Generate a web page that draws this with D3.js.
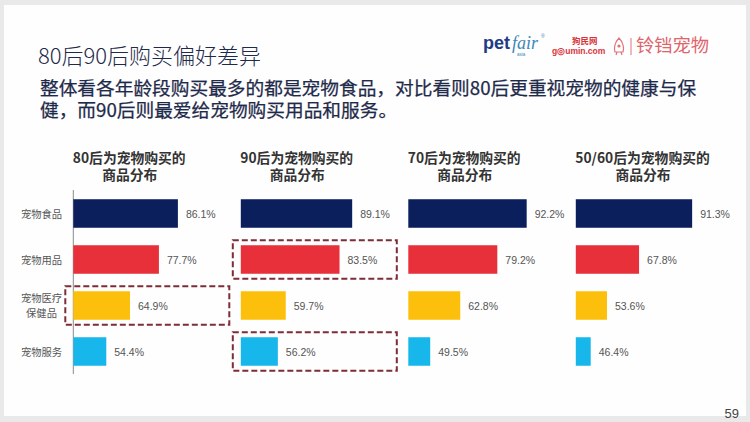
<!DOCTYPE html>
<html>
<head>
<meta charset="utf-8">
<script src="https://cdn.jsdelivr.net/npm/d3@7"></script>
<style>
  html, body { margin: 0; padding: 0; background: #fff; }
  svg { display: block; }
  text { font-family: "Noto Sans CJK SC", "Noto Sans", sans-serif; }
</style>
</head>
<body>
<svg id="chart" width="750" height="422"></svg>
<script>
// ---------------- data ----------------
const titleText = "80后90后购买偏好差异";
const subtitleLines = [
  "整体看各年龄段购买最多的都是宠物食品，对比看则80后更重视宠物的健康与保",
  "健，而90后则最爱给宠物购买用品和服务。"
];
const groups = ["80后", "90后", "70后", "50/60后"];
const headerSuffix = "为宠物购买的";
const headerLine2 = "商品分布";
const categories = ["宠物食品", "宠物用品", "宠物医疗\n保健品", "宠物服务"];
const values80 = [86.1, 77.7, 64.9, 54.4];
const values90 = [89.1, 83.5, 59.7, 56.2];
const values70 = [92.2, 79.2, 62.8, 49.5];
const values5060 = [91.3, 67.8, 53.6, 46.4];
const seriesValues = [values80, values90, values70, values5060];
const highlights = [
  { group: "80后", category: "宠物医疗\n保健品" },
  { group: "90后", category: "宠物用品" },
  { group: "90后", category: "宠物服务" }
];
const pageNumber = "59";

// ---------------- styles ----------------
const barColors = ["#0b1f5c", "#e7303a", "#fcc00c", "#17b7ec"];
const textDark = "#1e2a4a";
const labelGrey = "#555555";

const svg = d3.select("#chart");

// page frame
svg.append("rect").attr("width", 750).attr("height", 422).attr("fill", "#e9e9e9");
svg.append("rect").attr("x", 4).attr("y", 5).attr("width", 742).attr("height", 411).attr("fill", "#fefefe");

// title and subtitle
svg.append("text").attr("x", 38).attr("y", 64)
  .attr("font-size", 22).attr("font-weight", 300).attr("fill", textDark)
  .text(titleText);
const sub = svg.append("text")
  .attr("font-size", 18.7).attr("font-weight", 400).attr("fill", textDark)
  .attr("stroke", textDark).attr("stroke-width", 0.25);
sub.selectAll("tspan").data(subtitleLines).join("tspan")
  .attr("x", 40).attr("y", (d, i) => 95 + i * 22)
  .text(d => d);

// logos (as text)
const logo = svg.append("g");
logo.append("text").attr("x", 483).attr("y", 49)
  .style("font-family", "'Liberation Sans', Arial, sans-serif")
  .attr("font-size", 18).attr("font-weight", 700).attr("fill", "#1d3c86").text("pet");
logo.append("text").attr("x", 512).attr("y", 49)
  .style("font-family", "'Liberation Serif', serif").attr("font-style", "italic")
  .attr("font-size", 18).attr("fill", "#3f86b8").text("fair");
logo.append("text").attr("x", 541).attr("y", 38)
  .style("font-family", "'Liberation Sans', Arial, sans-serif")
  .attr("font-size", 5).attr("fill", "#3f86b8").text("®");
logo.append("text").attr("x", 517).attr("y", 56)
  .style("font-family", "'Liberation Sans', Arial, sans-serif")
  .attr("font-size", 4.5).attr("fill", "#3f86b8").text("asia");
logo.append("text").attr("x", 572).attr("y", 44)
  .attr("font-size", 8.5).attr("font-weight", 700).attr("fill", "#d8343c").text("狗民网");
logo.append("text").attr("x", 552).attr("y", 53.5)
  .style("font-family", "'Liberation Sans', Arial, sans-serif")
  .attr("font-size", 8.5).attr("font-weight", 700).attr("fill", "#d8343c").text("g◎umin.com");
logo.append("path")
  .attr("d", "M619,38 C614,43 614,49 615,52 L623,52 C624,49 624,43 619,38 Z M617,52 L616,55 M621,52 L622,55")
  .attr("fill", "none").attr("stroke", "#e0727a").attr("stroke-width", 1.2);
logo.append("circle").attr("cx", 619).attr("cy", 46).attr("r", 1.6).attr("fill", "#e0727a");
logo.append("line").attr("x1", 631).attr("x2", 631).attr("y1", 38).attr("y2", 55)
  .attr("stroke", "#e0727a").attr("stroke-width", 1);
logo.append("text").attr("x", 636).attr("y", 52)
  .attr("font-size", 18.3).attr("fill", "#e0646c").text("铃铛宠物");

// ---------------- scales ----------------
const panelX = d3.scalePoint().domain(groups).range([73.3, 575.8]);
const x = d3.scaleLinear().domain([39.8, 100]).range([0, 136]);
const y = d3.scaleBand().domain(categories).range([190.5, 374.5])
  .paddingInner(0.38).paddingOuter(0.19);

// axis line on first panel (category axis)
const yAxis = d3.axisLeft(y).tickSize(0).tickFormat("");
const axisG = svg.append("g").attr("transform", `translate(${panelX(groups[0])},0)`).call(yAxis);
axisG.select(".domain").attr("stroke", "#8a8a8a").attr("stroke-width", 1)
  .attr("d", `M0,190V374`);

// category labels
const catG = svg.append("g");
categories.forEach(c => {
  const lines = c.split("\n");
  const cy = y(c) + y.bandwidth() / 2;
  const t = catG.append("text").attr("text-anchor", "middle")
    .attr("font-size", 10.3).attr("fill", labelGrey);
  lines.forEach((ln, i) => {
    t.append("tspan").attr("x", 41.5)
      .attr("y", cy + 4 + (i - (lines.length - 1) / 2) * 15.5)
      .text(ln);
  });
});

// panels
groups.forEach((g, gi) => {
  const px = panelX(g);
  const pg = svg.append("g").attr("transform", `translate(${px},0)`);
  const head = pg.append("text")
    .attr("font-size", 13.8).attr("font-weight", 700).attr("fill", "#333");
  const t1 = head.append("tspan").attr("x", -0.5).attr("y", 163)
    .text(g + headerSuffix);
  const w = t1.node().getComputedTextLength();
  head.append("tspan").attr("x", w / 2).attr("y", 179.5).attr("text-anchor", "middle")
    .text(headerLine2);

  const vals = seriesValues[gi];
  pg.selectAll("rect.bar").data(categories).join("rect")
    .attr("class", "bar")
    .attr("x", 0).attr("y", d => y(d))
    .attr("width", (d, i) => x(vals[i]))
    .attr("height", y.bandwidth())
    .attr("fill", (d, i) => barColors[i]);
  pg.selectAll("text.val").data(categories).join("text")
    .attr("class", "val")
    .attr("x", (d, i) => x(vals[i]) + 8)
    .attr("y", d => y(d) + y.bandwidth() / 2 + 4)
    .style("font-family", "'Liberation Sans', Arial, sans-serif")
    .attr("font-size", 10.5).attr("fill", labelGrey)
    .text((d, i) => vals[i].toFixed(1) + "%");
});

// highlight boxes
svg.selectAll("rect.hl").data(highlights).join("rect")
  .attr("class", "hl")
  .attr("x", d => panelX(d.group) - 8)
  .attr("y", d => y(d.category) - 5)
  .attr("width", 164)
  .attr("height", y.bandwidth() + 10)
  .attr("fill", "none").attr("stroke", "#7e2c36").attr("stroke-width", 2)
  .attr("stroke-dasharray", "6,3");

// page number
svg.append("text").attr("x", 739).attr("y", 418).attr("text-anchor", "end")
  .style("font-family", "'Liberation Sans', Arial, sans-serif")
  .attr("font-size", 13).attr("fill", "#444").text(pageNumber);
</script>
</body>
</html>
